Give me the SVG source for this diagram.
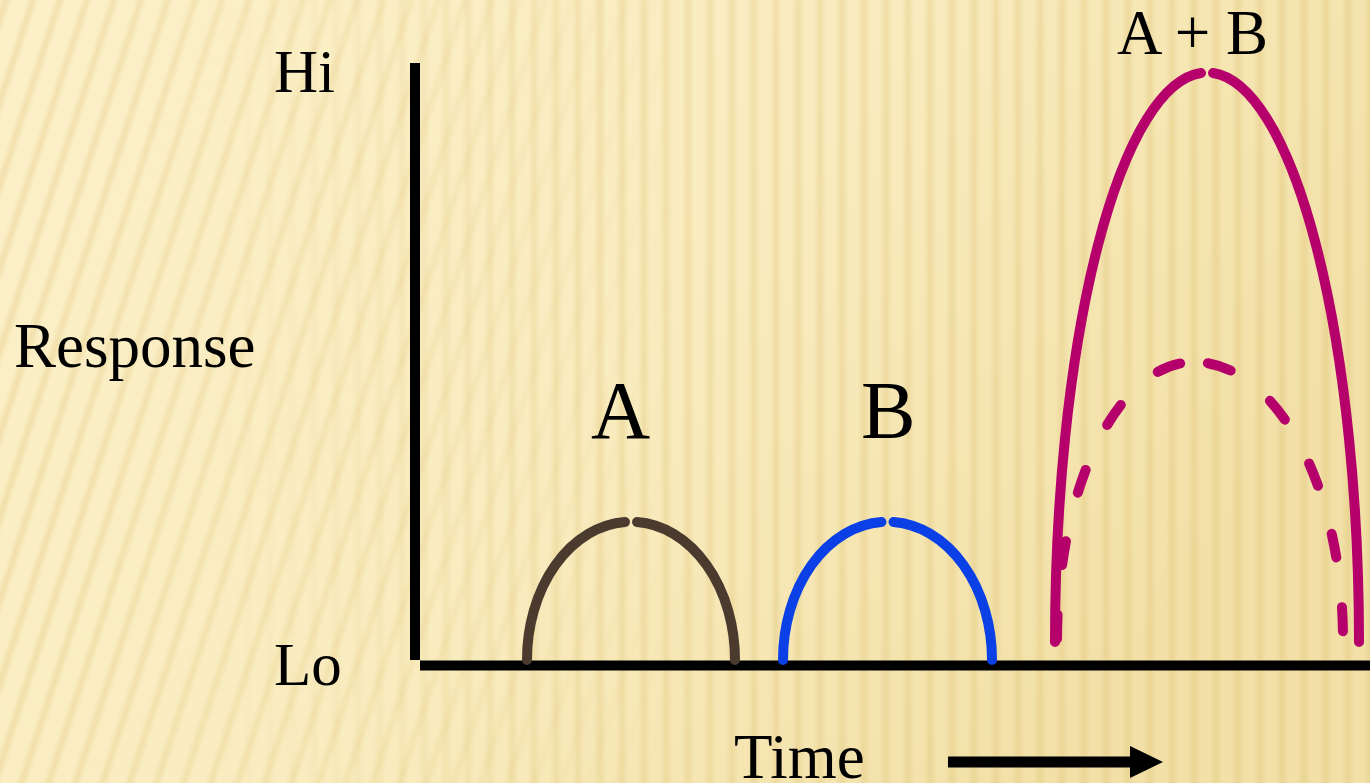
<svg xmlns="http://www.w3.org/2000/svg" width="1370" height="783" viewBox="0 0 1370 783">
  <style>
    .lbl { font-family: "Liberation Serif", "Times New Roman", serif; fill: #000; }
    .axis { stroke: #000; stroke-width: 10; fill: none; }
    .curve { fill: none; stroke-width: 10; stroke-linecap: round; }
    .a { stroke: #4B3B2F; }
    .b { stroke: #0A40E6; }
    .ab { stroke: #B5006B; }
  </style>
  <defs>
    <linearGradient id="bgGrad" x1="0" y1="0" x2="1" y2="0.4">
      <stop offset="0" stop-color="#FCF0C9"/>
      <stop offset="0.55" stop-color="#F9ECBF"/>
      <stop offset="1" stop-color="#F2E0A7"/>
    </linearGradient>
    <linearGradient id="stripeGrad" x1="0" y1="0" x2="1" y2="0">
      <stop offset="0" stop-color="#E2C67C" stop-opacity="0"/>
      <stop offset="0.5" stop-color="#E2C67C" stop-opacity="0.45"/>
      <stop offset="1" stop-color="#E2C67C" stop-opacity="0"/>
    </linearGradient>
    <pattern id="stripesV" patternUnits="userSpaceOnUse" width="22" height="783">
      <rect x="0" y="0" width="12" height="783" fill="url(#stripeGrad)"/>
    </pattern>
    <pattern id="stripesS" patternUnits="userSpaceOnUse" width="27" height="783" patternTransform="skewX(-18)">
      <rect x="0" y="0" width="12" height="783" fill="url(#stripeGrad)"/>
    </pattern>
    <linearGradient id="fadeL" x1="0" y1="0" x2="1" y2="0">
      <stop offset="0" stop-color="#fff" stop-opacity="0.85"/>
      <stop offset="0.3" stop-color="#fff" stop-opacity="0.5"/>
      <stop offset="0.5" stop-color="#fff" stop-opacity="0"/>
    </linearGradient>
    <linearGradient id="fadeR" x1="0" y1="0" x2="1" y2="0">
      <stop offset="0.15" stop-color="#fff" stop-opacity="0"/>
      <stop offset="0.45" stop-color="#fff" stop-opacity="0.8"/>
      <stop offset="1" stop-color="#fff"/>
    </linearGradient>
    <mask id="maskL"><rect width="1370" height="783" fill="url(#fadeL)"/></mask>
    <mask id="maskR"><rect width="1370" height="783" fill="url(#fadeR)"/></mask>
  </defs>

  <g id="background">
    <rect width="1370" height="783" fill="url(#bgGrad)"/>
    <rect width="1370" height="783" fill="url(#stripesS)" mask="url(#maskL)"/>
    <rect width="1370" height="783" fill="url(#stripesV)" mask="url(#maskR)"/>
  </g>

  <g id="axes">
    <line class="axis" x1="415" y1="63" x2="415" y2="660"/>
    <line class="axis" x1="420" y1="665.5" x2="1370" y2="665.5"/>
  </g>

  <g id="labels">
    <text class="lbl" x="274" y="92" font-size="61">Hi</text>
    <text class="lbl" x="274" y="685" font-size="61">Lo</text>
    <text class="lbl" x="14" y="367" font-size="63">Response</text>
    <text class="lbl" x="734" y="778" font-size="63">Time</text>
  </g>

  <g id="curve-A">
    <path class="curve a" d="M527,660 A104,138 0 0 1 625,522"/>
    <path class="curve a" d="M637,522 A104,138 0 0 1 735,660"/>
    <text class="lbl" x="591" y="438" font-size="82">A</text>
  </g>

  <g id="curve-B">
    <path class="curve b" d="M783,660 A104.5,138 0 0 1 881.5,522"/>
    <path class="curve b" d="M893.5,522 A104.5,138 0 0 1 992,660"/>
    <text class="lbl" x="861" y="438" font-size="82">B</text>
  </g>

  <g id="curve-AB">
    <path class="curve ab" d="M1055,642 A152,569 0 0 1 1201,73"/>
    <path class="curve ab" d="M1213,73 A152,569 0 0 1 1359,642"/>
    <path class="curve ab" stroke-dasharray="24 50" stroke-dashoffset="60" d="M1194,362 A137,278 0 0 0 1057,640"/>
    <path class="curve ab" stroke-dasharray="24 50" stroke-dashoffset="60" d="M1194,362 A149,278 0 0 1 1343,640"/>
    <text class="lbl" x="1117" y="54" font-size="63">A + B</text>
  </g>

  <g id="connectors">
    <line x1="948" y1="762" x2="1132" y2="762" stroke="#000" stroke-width="11"/>
    <polygon points="1130,746 1163,762 1130,778" fill="#000"/>
  </g>
</svg>
